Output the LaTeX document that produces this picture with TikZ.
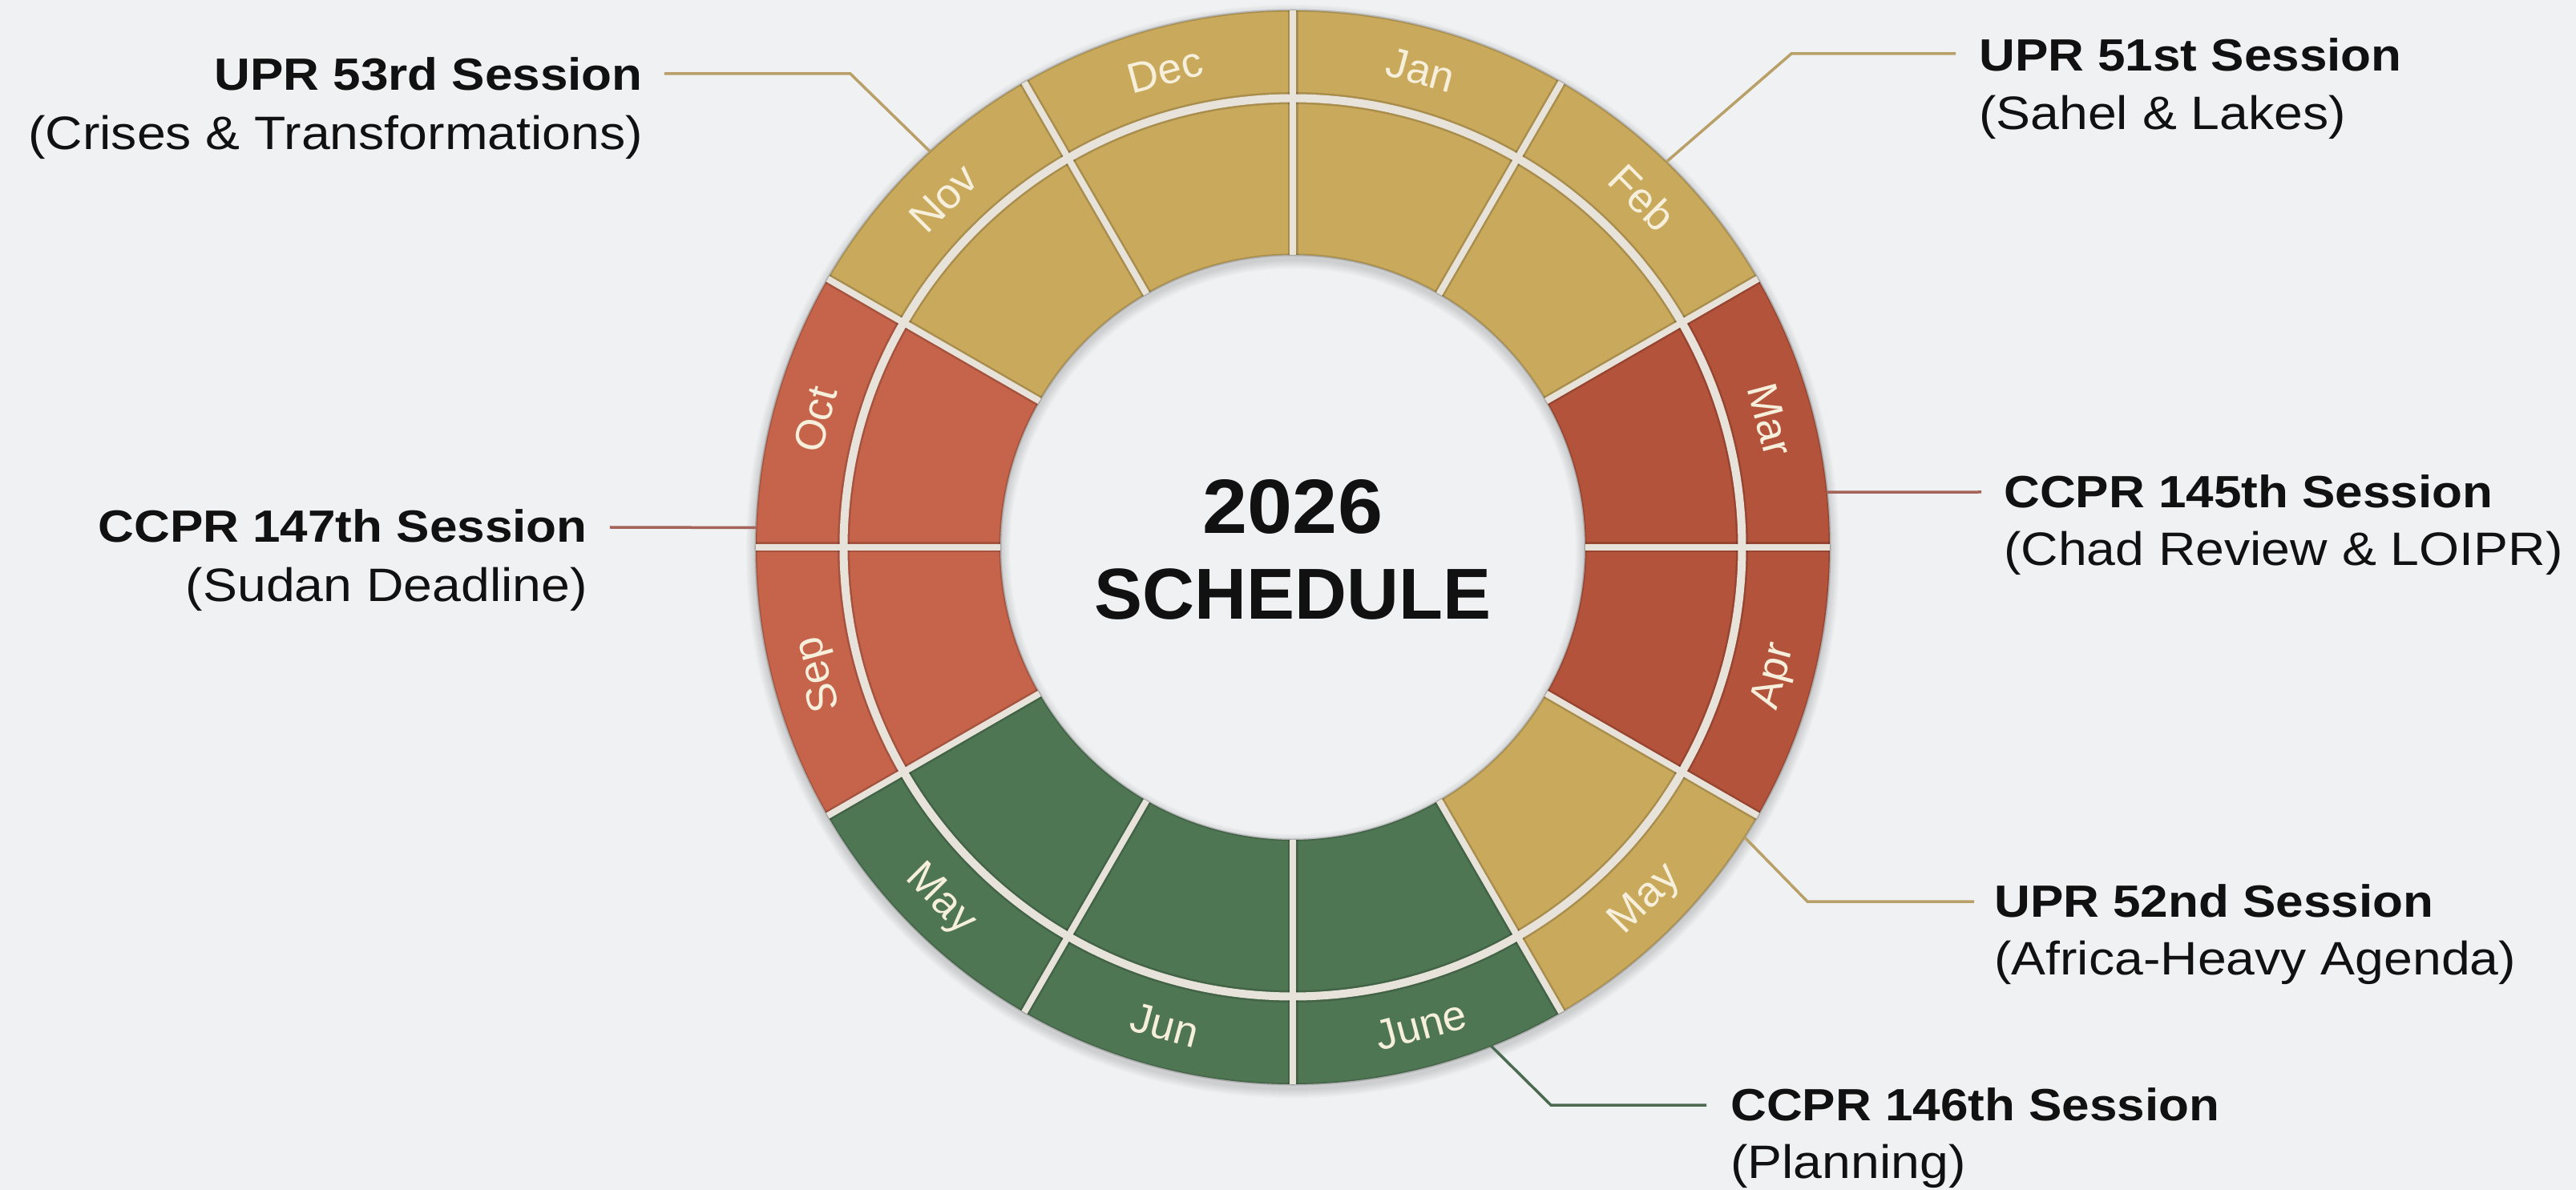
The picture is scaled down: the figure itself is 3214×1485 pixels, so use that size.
\documentclass[tikz,border=0pt]{standalone}
\usepackage{fontspec}
\setmainfont{Liberation Sans}
\newfontfamily\lblfont[FakeStretch=1.1]{Liberation Sans}
\newfontfamily\yrfont[FakeStretch=1.05]{Liberation Sans}
\definecolor{bgc}{HTML}{F0F1F3}
\definecolor{goldc}{HTML}{C9A95B}
\definecolor{redR}{HTML}{B4533B}
\definecolor{redL}{HTML}{C5644A}
\definecolor{greenc}{HTML}{4F7653}
\definecolor{gapc}{HTML}{E7E3DA}
\definecolor{monthc}{HTML}{F6EFDC}
\definecolor{goldline}{HTML}{B9A069}
\definecolor{redline}{HTML}{A5645A}
\definecolor{greenline}{HTML}{4C6A50}
\definecolor{inkc}{HTML}{111111}
\begin{document}
\begin{tikzpicture}[x=1pt,y=1pt,
  boldlbl/.style={inner sep=0pt, text=inkc, font=\lblfont\bfseries\fontsize{56.4}{60}\selectfont},
  reglbl/.style={inner sep=0pt, text=inkc, font=\lblfont\fontsize{58.5}{62}\selectfont},
  monthlbl/.style={inner sep=0pt, text=monthc, text height=37pt, text depth=0pt, anchor=center, font=\fontsize{53}{56}\selectfont},
  conn/.style={line width=3.5pt},
  centerlbl/.style={inner sep=0pt, text=inkc}]
% background / bounding box
\fill[bgc] (-1613,-802) rectangle (1601,683);
\useasboundingbox (-1613,-802) rectangle (1601,683);
% soft shadow
\foreach \k in {1,...,6}
  \fill[black, opacity=0.022, even odd rule] (0,-5) circle ({670+2*\k}) (0,-5) circle ({365-2*\k});
% segments
\foreach \a/\c in {60/goldc,30/goldc,0/redR,-30/redR,-60/goldc,-90/greenc,-120/greenc,-150/greenc,-180/redL,150/redL,120/goldc,90/goldc}
  \fill[\c] (\a:365) arc[start angle=\a, end angle={\a+30}, radius=365]
     -- ({\a+30}:670) arc[start angle={\a+30}, end angle=\a, radius=670] -- cycle;
% dark edges
\draw[black, opacity=0.16, line width=3pt] (0,0) circle (670);
\draw[black, opacity=0.16, line width=3pt] (0,0) circle (365);
\draw[black, opacity=0.16, line width=15pt] (0,0) circle (560.5);
\foreach \a in {0,30,...,330}
  \draw[black, opacity=0.16, line width=13pt] (\a:365) -- (\a:670);
% light gaps
\draw[gapc, line width=10pt] (0,0) circle (560.5);
\foreach \a in {0,30,...,330}
  \draw[gapc, line width=8pt] (\a:365) -- (\a:670);
% month labels
\foreach \ang/\rot/\t [count=\i] in {75/-15/Jan, 45/-45/Feb, 15/-75/Mar, -15/75/Apr, -45/45/May, -75/15/June, -105/-15/Jun, -135/-45/May, -165/105/Sep, 165/75/Oct, 135/45/Nov, 105/15/Dec}
  \node[monthlbl, rotate=\rot] (m\i) at (\ang:617) {\t};
% center title
\node[centerlbl, anchor=base, font=\yrfont\bfseries\fontsize{96}{100}\selectfont] (year) at (0,17) {2026};
\node[centerlbl, anchor=base, font=\bfseries\fontsize{90}{96}\selectfont] (sched) at (0,-90) {SCHEDULE};
% session labels
\node[boldlbl, anchor=base east] (b53) at (-811,570) {UPR 53rd Session};
\node[reglbl, anchor=base east] (r53) at (-811,496) {(Crises \& Transformations)};
\node[boldlbl, anchor=base east] (b147) at (-880,6) {CCPR 147th Session};
\node[reglbl, anchor=base east] (r147) at (-880,-68) {(Sudan Deadline)};
\node[boldlbl, anchor=base west] (b51) at (856,594) {UPR 51st Session};
\node[reglbl, anchor=base west] (r51) at (856,521) {(Sahel \& Lakes)};
\node[boldlbl, anchor=base west] (b145) at (887,49) {CCPR 145th Session};
\node[reglbl, anchor=base west] (r145) at (887,-23) {(Chad Review \& LOIPR)};
\node[boldlbl, anchor=base west] (b52) at (875,-461) {UPR 52nd Session};
\node[reglbl, anchor=base west] (r52) at (875,-533) {(Africa-Heavy Agenda)};
\node[boldlbl, anchor=base west] (b146) at (546,-715) {CCPR 146th Session};
\node[reglbl, anchor=base west] (r146) at (546,-787) {(Planning)};
% connector points
\coordinate (a53) at (132.5:670);
\coordinate (k53) at (-552,591);
\coordinate (e53) at (-784,591);
\coordinate (a51) at (45.9:670);
\coordinate (k51) at (622,616);
\coordinate (e51) at (827,616);
\coordinate (a145) at (5.9:670);
\coordinate (e145) at (859,69);
\coordinate (a147) at (177.9:670);
\coordinate (e147) at (-852,25);
\coordinate (a52) at (-32.7:670);
\coordinate (k52) at (642,-442);
\coordinate (e52) at (850,-442);
\coordinate (a146) at (-68.3:670);
\coordinate (k146) at (322,-696);
\coordinate (e146) at (516,-696);
% connectors
\draw[conn, goldline] (a53) -- (k53) -- (e53);
\draw[conn, goldline] (a51) -- (k51) -- (e51);
\draw[conn, redline] (a145) -- (e145);
\draw[conn, redline] (a147) -- (e147);
\draw[conn, goldline] (a52) -- (k52) -- (e52);
\draw[conn, greenline] (a146) -- (k146) -- (e146);
\end{tikzpicture}
\end{document}
